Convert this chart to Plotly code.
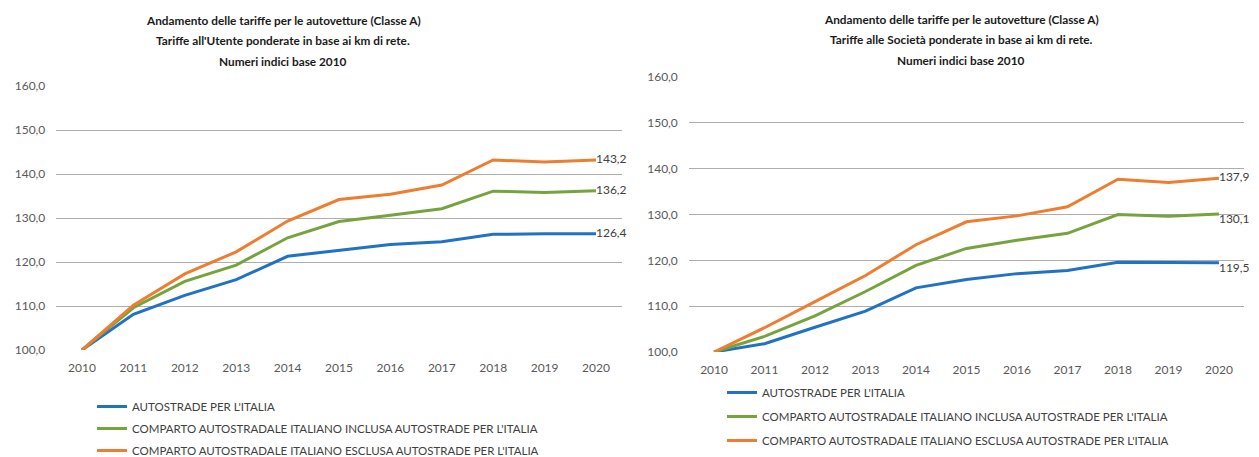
import plotly.graph_objects as go

years = ["2010", "2011", "2012", "2013", "2014", "2015", "2016", "2017", "2018", "2019", "2020"]

# Left chart: Tariffe all'Utente
utente_aspi = [100.0, 108.1, 112.4, 116.0, 121.3, 122.7, 124.0, 124.6, 126.3, 126.4, 126.4]
utente_inclusa = [100.0, 109.6, 115.6, 119.3, 125.5, 129.2, 130.6, 132.1, 136.1, 135.8, 136.2]
utente_esclusa = [100.0, 110.2, 117.3, 122.3, 129.3, 134.2, 135.4, 137.5, 143.2, 142.7, 143.2]

# Right chart: Tariffe alle Società
societa_aspi = [100.0, 101.8, 105.4, 108.9, 114.0, 115.8, 117.1, 117.8, 119.6, 119.5, 119.5]
societa_inclusa = [100.0, 103.4, 107.9, 113.2, 118.9, 122.6, 124.4, 125.9, 130.0, 129.6, 130.1]
societa_esclusa = [100.0, 105.3, 111.0, 116.7, 123.4, 128.4, 129.7, 131.7, 137.7, 137.0, 137.9]

series_names = [
    "AUTOSTRADE PER L'ITALIA",
    "COMPARTO AUTOSTRADALE ITALIANO INCLUSA AUTOSTRADE PER L'ITALIA",
    "COMPARTO AUTOSTRADALE ITALIANO ESCLUSA AUTOSTRADE PER L'ITALIA",
]
colors = ["#2272c3", "#76a33e", "#ee7d2f"]

y_ticks = [100, 110, 120, 130, 140, 150, 160]

title_left = [
    "Andamento delle tariffe per le autovetture (Classe A)",
    "Tariffe all'Utente ponderate in base ai km di rete.",
    "Numeri indici base 2010",
]
title_right = [
    "Andamento delle tariffe per le autovetture (Classe A)",
    "Tariffe alle Società ponderate in base ai km di rete.",
    "Numeri indici base 2010",
]

FONT = "Lato"


def fmt(v):
    return f"{v:.1f}".replace(".", ",")


fig = go.Figure()

left_sets = [utente_aspi, utente_inclusa, utente_esclusa]
right_sets = [societa_aspi, societa_inclusa, societa_esclusa]
right_pos = ["bottom right", "bottom right", "middle right"]

for i, (vals, name, col) in enumerate(zip(left_sets, series_names, colors)):
    fig.add_trace(go.Scatter(
        x=years, y=vals, name=name, mode="lines+text",
        line=dict(color=col, width=3),
        text=[""] * (len(vals) - 1) + [fmt(vals[-1])],
        textposition="middle right",
        textfont=dict(family=FONT, size=12, color="#404040"),
        xaxis="x", yaxis="y", legend="legend", legendgroup=f"l{i}",
        hoverinfo="skip", cliponaxis=False,
    ))

for i, (vals, name, col) in enumerate(zip(right_sets, series_names, colors)):
    fig.add_trace(go.Scatter(
        x=years, y=vals, name=name, mode="lines+text",
        line=dict(color=col, width=3),
        text=[""] * (len(vals) - 1) + [fmt(vals[-1])],
        textposition=right_pos[i],
        textfont=dict(family=FONT, size=12, color="#404040"),
        xaxis="x2", yaxis="y2", legend="legend2", legendgroup=f"r{i}",
        hoverinfo="skip", cliponaxis=False,
    ))

W, H = 1259, 457

def px(x):
    return x / W

def py(y):
    return (H - y) / H

xcommon = dict(type="category", range=[-0.5, 10.5], showgrid=False, zeroline=False,
               showline=False, ticks="", tickfont=dict(family=FONT, size=12, color="#595959"),
               ticklabelstandoff=9, automargin=False)
ycommon = dict(range=[100, 160], tickvals=y_ticks, tickformat=".1f", showgrid=True,
               gridcolor="#adadad", gridwidth=1.3, zeroline=False, showline=False, ticks="",
               tickfont=dict(family=FONT, size=12, color="#595959"), ticklabelstandoff=10,
               automargin=False)

fig.update_layout(
    width=W, height=H,
    margin=dict(l=0, r=0, t=0, b=0, autoexpand=False),
    paper_bgcolor="white", plot_bgcolor="white",
    separators=",.",
    font=dict(family=FONT, color="#404040"),
    xaxis=dict(domain=[px(56.3), px(621.7)], anchor="y", **xcommon),
    yaxis=dict(domain=[py(350), py(86)], anchor="x", **ycommon),
    xaxis2=dict(domain=[px(688.8), px(1244.2)], anchor="y2", **xcommon),
    yaxis2=dict(domain=[py(352), py(77)], anchor="x2", **ycommon),
    legend=dict(x=px(92), y=py(392), xanchor="left", yanchor="top",
                font=dict(family=FONT, size=11.5, color="#404040"),
                tracegroupgap=3, bgcolor="rgba(0,0,0,0)"),
    legend2=dict(x=px(722), y=py(378), xanchor="left", yanchor="top",
                 font=dict(family=FONT, size=11.5, color="#404040"),
                 tracegroupgap=5, bgcolor="rgba(0,0,0,0)"),
    showlegend=True,
)

for lines, cx, ys in [(title_left, 283, [20, 41, 62]), (title_right, 961, [19, 39, 60])]:
    for txt, yy in zip(lines, ys):
        fig.add_annotation(text=f"<b>{txt}</b>", x=px(cx), y=py(yy), xref="paper", yref="paper",
                           xanchor="center", yanchor="middle", showarrow=False,
                           font=dict(family=FONT, size=11.8, color="#1a1a1a"))

fig.write_html(
    "out.html",
    config={"displayModeBar": False},
    post_script="document.body.style.margin='0px';document.documentElement.style.overflow='hidden';",
)
